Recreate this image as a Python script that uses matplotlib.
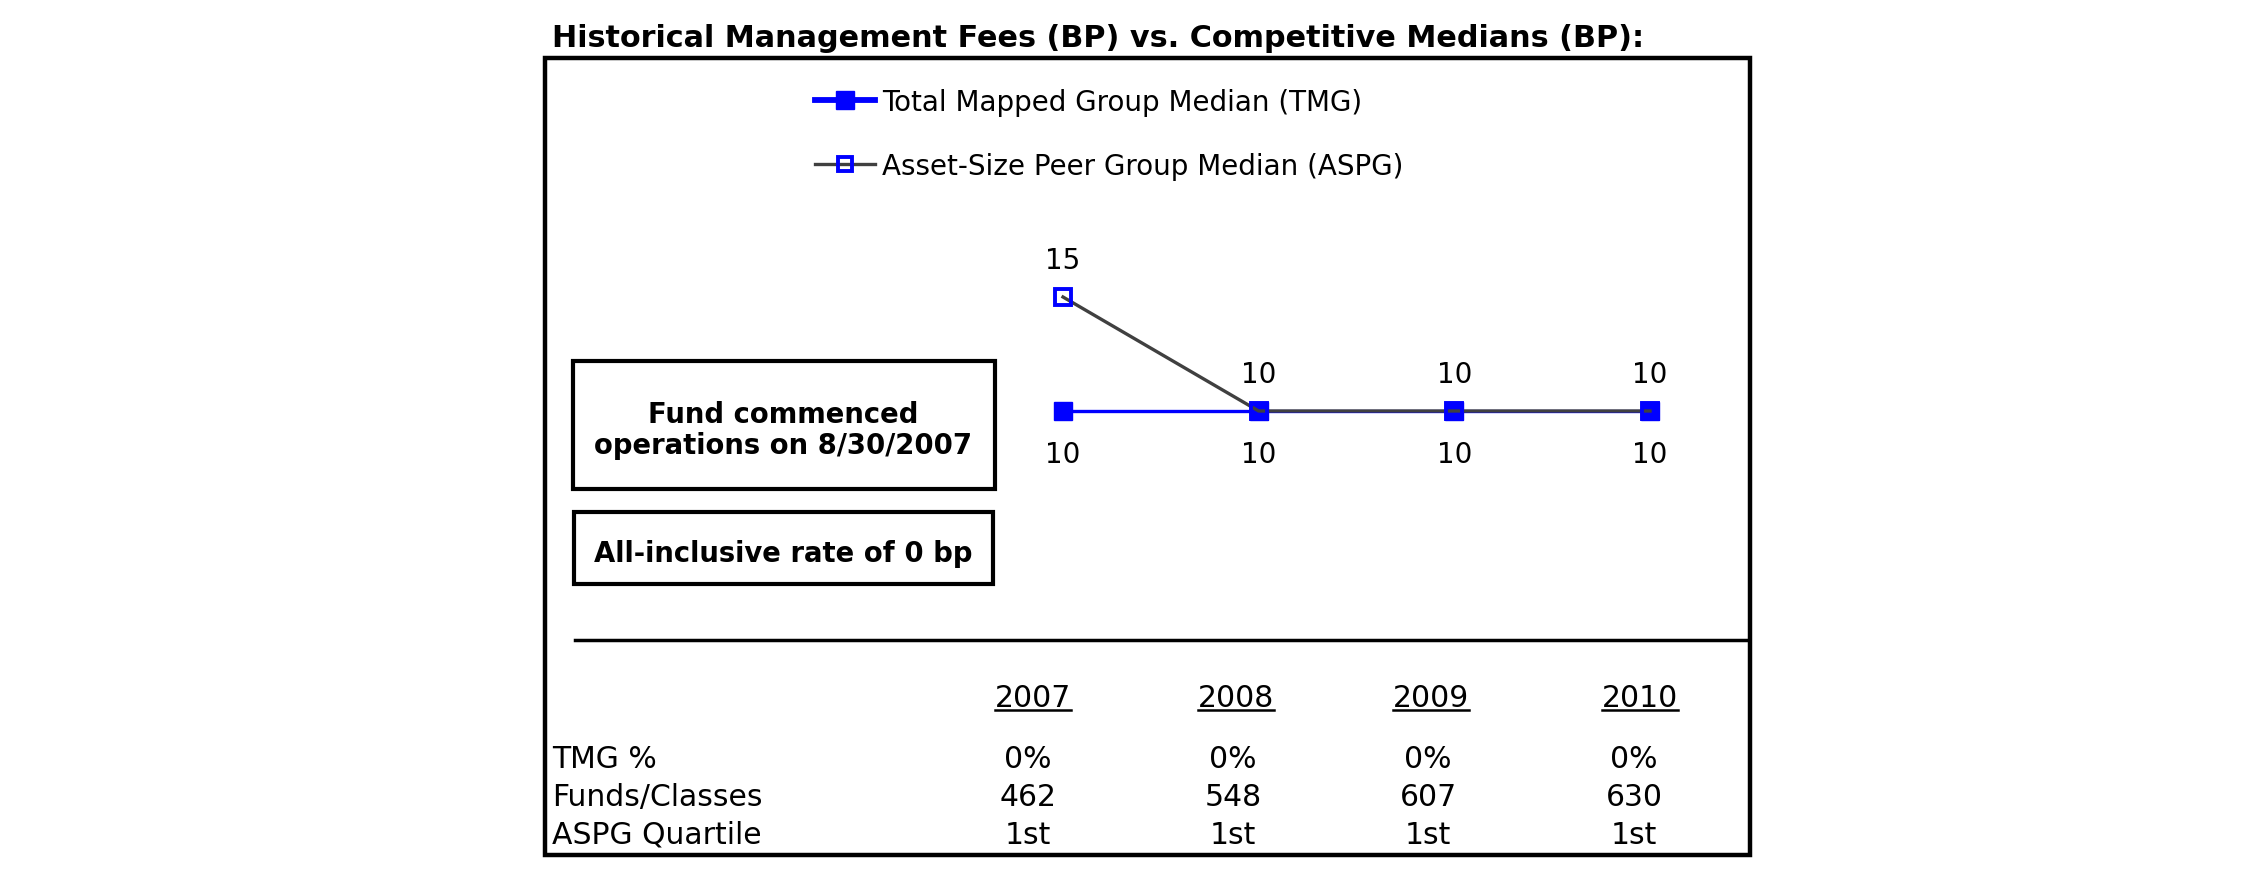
import matplotlib
matplotlib.use('Agg')
import matplotlib.pyplot as plt
from matplotlib.patches import Rectangle
from matplotlib.lines import Line2D

# ---------------- data ----------------
years = ['2007', '2008', '2009', '2010']
tmg = [10, 10, 10, 10]
aspg = [15, 10, 10, 10]
tmg_pct = ['0%', '0%', '0%', '0%']
funds_classes = [462, 548, 607, 630]
aspg_quartile = ['1st', '1st', '1st', '1st']
row_labels = ['TMG %', 'Funds/Classes', 'ASPG Quartile']
series_names = ['Total Mapped Group Median (TMG)',
                'Asset-Size Peer Group Median (ASPG)']
title = 'Historical Management Fees (BP) vs. Competitive Medians (BP):'
notes = ['Fund commenced\noperations on 8/30/2007',
         'All-inclusive rate of 0 bp']

# ---------------- layout ----------------
W, H = 2250, 895
plt.rcParams['font.family'] = ['DejaVu Sans']
fig = plt.figure(figsize=(W / 100, H / 100), dpi=100)
renderer = fig.canvas.get_renderer()


def fx(p):
    return p / W


def fy(p):
    return 1 - p / H


def fit(t, target):
    w = t.get_window_extent(renderer).width
    t.set_fontsize(t.get_fontsize() * target / w)
    return t.get_fontsize()


BLUE = '#0000FF'
GRAY = '#404040'
FS = 20
TFS = 21.5

# title
t = fig.text(fx(552), fy(47), title, ha='left', va='baseline',
             fontsize=20, fontweight='bold')
fit(t, 1092)

# outer frame
fig.add_artist(Rectangle((fx(545), fy(856)), (1750 - 545) / W, (856 - 59) / H,
                         transform=fig.transFigure, fill=False,
                         lw=3.2, ec='black'))

# chart axes
xs = list(range(len(years)))
px_per_x = (1650 - 1063) / 3
px_per_y = (412 - 298) / 5
ax = fig.add_axes([fx(1063 - 0.5 * px_per_x), fy(412 + 5 * px_per_y),
                   4 * px_per_x / W, 15 * px_per_y / H])
ax.set_xlim(-0.5, 3.5)
ax.set_ylim(5, 20)
ax.axis('off')

l1, = ax.plot(xs, tmg, color=BLUE, lw=2.4, marker='s', ms=13.5,
              mfc=BLUE, mec=BLUE, zorder=2, label=series_names[0])
l2, = ax.plot(xs, aspg, color=GRAY, lw=2.4, marker='s', ms=11,
              mfc='none', mec=BLUE, mew=2.8, zorder=3, label=series_names[1])

for i, v in enumerate(aspg):
    ax.annotate(str(v), (xs[i], v), xytext=(0, 21), textcoords='offset points',
                ha='center', va='baseline', fontsize=FS)
for i, v in enumerate(tmg):
    ax.annotate(str(v), (xs[i], v), xytext=(0, -36.5), textcoords='offset points',
                ha='center', va='baseline', fontsize=FS)

leg = fig.legend(handles=[l1, l2], loc='upper left',
                 bbox_to_anchor=(fx(815), fy(89)), frameon=False,
                 borderpad=0, borderaxespad=0, handlelength=2.16,
                 handletextpad=0.25, labelspacing=1.3, fontsize=FS)
leg_lines = leg.get_lines()
leg_lines[0].set_linewidth(4.2)
leg_lines[0].set_markersize(12.5)
leg_lines[1].set_markersize(10)

# note boxes
fig.add_artist(Rectangle((fx(573), fy(490)), (995 - 573) / W, (490 - 362) / H,
                         transform=fig.transFigure, fill=False, lw=3,
                         ec='black'))
fig.add_artist(Rectangle((fx(574), fy(585)), (993 - 574) / W, (585 - 513) / H,
                         transform=fig.transFigure, fill=False, lw=3,
                         ec='black'))
note_lines = notes[0].split('\n')
ta = fig.text(fx(783), fy(423), note_lines[0], ha='center', va='baseline',
              fontsize=18, fontweight='bold')
tb = fig.text(fx(783), fy(454), note_lines[1], ha='center', va='baseline',
              fontsize=18, fontweight='bold')
nfs = fit(tb, 380)
ta.set_fontsize(nfs)
fig.text(fx(783), fy(562), notes[1], ha='center', va='baseline',
         fontsize=nfs, fontweight='bold')

# separator
fig.add_artist(Line2D([fx(575), fx(1748)], [fy(641), fy(641)],
                      transform=fig.transFigure, lw=2.5, color='black'))

# table
year_cx = [1033, 1236, 1431, 1640]
val_cx = [1028, 1233, 1428, 1634]
for cx, y in zip(year_cx, years):
    ty = fig.text(fx(cx), fy(707), y, ha='center', va='baseline', fontsize=TFS)
    bb = ty.get_window_extent(renderer)
    fig.add_artist(Line2D([bb.x0 / W, bb.x1 / W], [fy(711), fy(711)],
                          transform=fig.transFigure, lw=1.8, color='black'))

row_base = [768, 806, 844]
rows = [tmg_pct, [str(v) for v in funds_classes], aspg_quartile]
for lab, yb, vals in zip(row_labels, row_base, rows):
    fig.text(fx(552), fy(yb), lab, ha='left', va='baseline', fontsize=TFS)
    for cx, v in zip(val_cx, vals):
        fig.text(fx(cx), fy(yb), v, ha='center', va='baseline', fontsize=TFS)

fig.savefig('out.png', dpi=100, facecolor='white')
